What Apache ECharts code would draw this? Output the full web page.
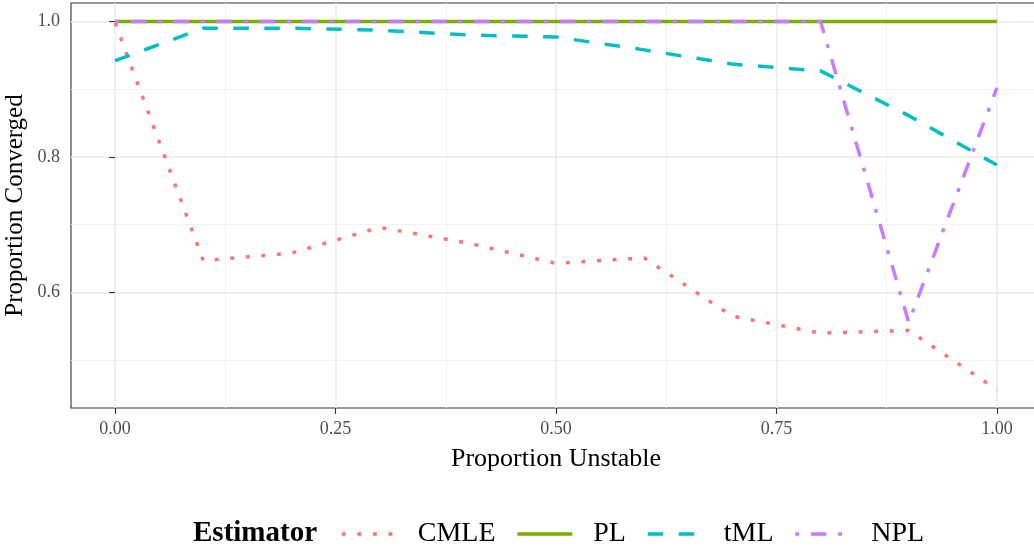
<!DOCTYPE html>
<html>
<head>
<meta charset="utf-8">
<title>Proportion Converged</title>
<script src="https://cdn.jsdelivr.net/npm/echarts@6/dist/echarts.min.js"></script>
<style>
  html, body { margin: 0; padding: 0; background: #fff; }
  #chart { width: 1034px; height: 548px; }
</style>
</head>
<body>
<div id="chart"></div>
<script>
// proportion unstable (x) and proportion converged for each estimator
const xValues = [0, 0.1, 0.2, 0.3, 0.4, 0.5, 0.6, 0.7, 0.8, 0.9, 1.0];
const cmle = [0.998, 0.647, 0.658, 0.696, 0.673, 0.643, 0.651, 0.565, 0.540, 0.544, 0.4565];
const pl   = [1, 1, 1, 1, 1, 1, 1, 1, 1, 1, 1];
const tml  = [0.942, 0.990, 0.990, 0.987, 0.980, 0.977, 0.958, 0.937, 0.927, 0.861, 0.788];
const npl  = [1, 1, 1, 1, 1, 1, 1, 1, 1, 0.556, 0.902];

const estimators = ["CMLE", "PL", "tML", "NPL"];
const colors = ["#F8766D", "#7CAE00", "#00BFC4", "#C77CFF"];
const dashes = [[3.9, 11.7], "solid", [15.5, 15.5], [3.9, 11.7, 15.6, 11.7]];

const xMajor = [0, 0.25, 0.5, 0.75, 1];
const xMinor = [0.125, 0.375, 0.625, 0.875];
const yMajor = [0.6, 0.8, 1.0];
const yMinor = [0.5, 0.7, 0.9];

const FONT = "Liberation Serif";
const LINE_W = 3.5;

const chart = echarts.init(document.getElementById("chart"));

function pairs(ys) {
  return xValues.map((x, i) => [x, ys[i]]);
}

const seriesData = [cmle, pl, tml, npl];

const series = estimators.map((name, i) => ({
  name: name,
  type: "line",
  xAxisIndex: 0,
  yAxisIndex: 0,
  data: pairs(seriesData[i]),
  symbol: "none",
  showSymbol: false,
  z: 3 + i,
  lineStyle: { color: colors[i], width: LINE_W, type: dashes[i], cap: "butt" },
  itemStyle: { color: colors[i] },
}));

const tickStyle = { show: true, length: 6, lineStyle: { color: "#333", width: 1.1 } };

chart.setOption({
  animation: false,
  backgroundColor: "#fff",
  grid: {
    left: 71, right: -7, top: 3, bottom: 140,
    outerBoundsMode: "none",
    containLabel: false,
    show: true, borderColor: "#333", borderWidth: 1.1,
  },
  xAxis: [
    {
      type: "value", min: -0.05, max: 1.05,
      name: "Proportion Unstable", nameLocation: "middle", nameGap: 38,
      nameTextStyle: { fontFamily: FONT, fontSize: 26, color: "#000" },
      axisLine: { show: false },
      axisTick: Object.assign({ customValues: xMajor }, tickStyle),
      axisLabel: {
        customValues: xMajor, margin: 12,
        fontFamily: FONT, fontSize: 18, color: "#4D4D4D",
        formatter: v => v.toFixed(2),
      },
      splitLine: { show: true, lineStyle: { color: "#EBEBEB", width: 1.6 } },
    },
    {
      type: "value", min: -0.05, max: 1.05, position: "bottom",
      axisLine: { show: false },
      axisTick: { show: false, customValues: xMinor },
      axisLabel: { show: false },
      splitLine: { show: true, lineStyle: { color: "#EFEFEF", width: 0.9 } },
    },
  ],
  yAxis: [
    {
      type: "value", min: 0.4295, max: 1.0272,
      name: "Proportion Converged", nameLocation: "middle", nameGap: 43,
      nameMoveOverlap: false,
      nameTextStyle: { fontFamily: FONT, fontSize: 25, color: "#000" },
      axisLine: { show: false },
      axisTick: Object.assign({ customValues: yMajor }, tickStyle),
      axisLabel: {
        customValues: yMajor, margin: 11,
        fontFamily: FONT, fontSize: 18, color: "#4D4D4D",
        formatter: v => v.toFixed(1),
      },
      splitLine: { show: true, lineStyle: { color: "#EBEBEB", width: 1.6 } },
    },
    {
      type: "value", min: 0.4295, max: 1.0272, position: "left",
      axisLine: { show: false },
      axisTick: { show: false, customValues: yMinor },
      axisLabel: { show: false },
      splitLine: { show: true, lineStyle: { color: "#EFEFEF", width: 0.9 } },
    },
  ],
  legend: {
    data: estimators,
    orient: "horizontal",
    left: 340, top: 519, padding: 0,
    itemWidth: 55, itemHeight: 14, itemGap: 20,
    lineStyle: { width: LINE_W },
    itemStyle: { opacity: 0, borderWidth: 0 },
    textStyle: {
      fontFamily: FONT, fontSize: 28, color: "#000",
      lineHeight: 30, padding: [0, 0, 0, 16],
    },
  },
  graphic: [{
    type: "text", left: 193, top: 519,
    style: {
      text: "Estimator", fontFamily: FONT, fontSize: 29,
      fontWeight: "bold", fill: "#000", lineHeight: 30,
    },
  }],
  series: series,
});
</script>
</body>
</html>
